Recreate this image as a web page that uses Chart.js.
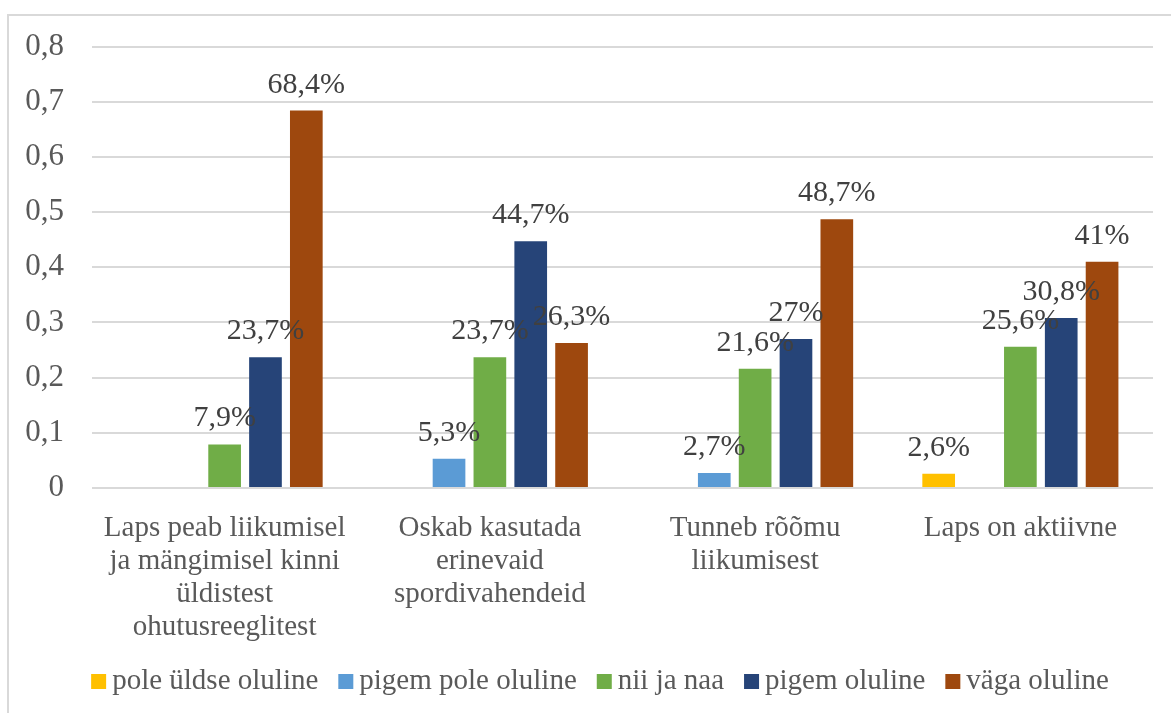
<!DOCTYPE html>
<html>
<head>
<meta charset="utf-8">
<script src="https://cdn.jsdelivr.net/npm/chart.js@4"></script>
<style>
    html, body { margin: 0; padding: 0; background: #fff; overflow: hidden; }
    #wrap { position: relative; width: 1171px; height: 713px; }
    #raam { position: absolute; left: 7px; top: 14px; width: 1200px; height: 800px;
            border-top: 2px solid #d9d9d9; border-left: 2px solid #d9d9d9; }
    canvas { position: absolute; left: 0; top: 0; }
</style>
</head>
<body>
<div id="wrap">
    <div id="raam"></div>
    <canvas id="graafik" width="1171" height="713"></canvas>
</div>
<script>
// Kategooriad (mitmerealised sildid)
const kategooriad = [
    ['Laps peab liikumisel', 'ja mängimisel kinni', 'üldistest', 'ohutusreeglitest'],
    ['Oskab kasutada', 'erinevaid', 'spordivahendeid'],
    ['Tunneb rõõmu', 'liikumisest'],
    ['Laps on aktiivne']
];

// Seeriad
const poleUldseOluline = [0, 0, 0, 0.026];
const pigemPoleOluline = [0, 0.053, 0.027, 0];
const niiJaNaa = [0.079, 0.237, 0.216, 0.256];
const pigemOluline = [0.237, 0.447, 0.27, 0.308];
const vagaOluline = [0.684, 0.263, 0.487, 0.41];

const yTicks = [0, 0.1, 0.2, 0.3, 0.4, 0.5, 0.6, 0.7, 0.8];

const font = 'Liberation Serif';

// Protsendi silt, nt 0.684 -> "68,4%"
const protsent = (v) => String(Math.round(v * 1000) / 10).replace('.', ',') + '%';

// Andmesildid tulpade kohal (nulliga tulbad jäetakse vahele)
const andmesildid = {
    id: 'andmesildid',
    afterDatasetsDraw(chart) {
        const ctx = chart.ctx;
        ctx.save();
        ctx.font = '30px "' + font + '"';
        ctx.fillStyle = '#404040';
        ctx.textAlign = 'center';
        ctx.textBaseline = 'alphabetic';
        chart.data.datasets.forEach((ds, i) => {
            const meta = chart.getDatasetMeta(i);
            meta.data.forEach((bar, j) => {
                const v = ds.data[j];
                if (!v) return;
                ctx.fillText(protsent(v), bar.x, bar.y - 18);
            });
        });
        ctx.restore();
    }
};

// Legend Exceli moodi: väike ruut, kohe selle järel tekst
const legend = {
    id: 'omaLegend',
    afterDraw(chart) {
        const ctx = chart.ctx;
        const kast = 15, vahe = 6, samm = 20, baas = 689, keskkoht = 600;
        ctx.save();
        ctx.font = '29px "' + font + '"';
        ctx.textBaseline = 'alphabetic';
        ctx.textAlign = 'left';
        const laiused = chart.data.datasets.map(ds => ctx.measureText(ds.label).width);
        const kokku = laiused.reduce((s, w) => s + kast + vahe + w, 0) + samm * (laiused.length - 1);
        let x = keskkoht - kokku / 2;
        chart.data.datasets.forEach((ds, i) => {
            ctx.fillStyle = ds.backgroundColor;
            ctx.fillRect(x, baas - kast, kast, kast);
            ctx.fillStyle = '#595959';
            ctx.fillText(ds.label, x + kast + vahe, baas);
            x += kast + vahe + laiused[i] + samm;
        });
        ctx.restore();
    }
};

const seeria = (nimi, andmed, varv) => ({
    label: nimi,
    data: andmed,
    backgroundColor: varv,
    borderWidth: 0,
    barPercentage: 0.8,
    categoryPercentage: 0.77
});

new Chart(document.getElementById('graafik'), {
    type: 'bar',
    data: {
        labels: kategooriad,
        datasets: [
            seeria('pole üldse oluline', poleUldseOluline, '#FFC000'),
            seeria('pigem pole oluline', pigemPoleOluline, '#5B9BD5'),
            seeria('nii ja naa', niiJaNaa, '#70AD47'),
            seeria('pigem oluline', pigemOluline, '#264478'),
            seeria('väga oluline', vagaOluline, '#9E480E')
        ]
    },
    options: {
        responsive: false,
        animation: false,
        layout: { padding: { left: 0, right: 18, top: 0, bottom: 60 } },
        plugins: {
            legend: { display: false },
            tooltip: { enabled: false }
        },
        scales: {
            x: {
                grid: { display: false },
                border: { display: false },
                ticks: {
                    color: '#595959',
                    font: { family: font, size: 29, lineHeight: 1.14 },
                    padding: 16,
                    maxRotation: 0,
                    autoSkip: false
                },
                afterFit: (s) => { s.height = 165; }
            },
            y: {
                min: 0,
                max: 0.8,
                afterBuildTicks: (s) => { s.ticks = yTicks.map(v => ({ value: v })); },
                grid: { color: '#d9d9d9', lineWidth: 2, drawTicks: false },
                border: { display: false },
                ticks: {
                    color: '#595959',
                    font: { family: font, size: 31 },
                    padding: 28,
                    callback: (v) => v === 0 ? '0' : v.toFixed(1).replace('.', ',')
                },
                afterFit: (s) => { s.width = 92; }
            }
        }
    },
    plugins: [andmesildid, legend]
});
</script>
</body>
</html>
